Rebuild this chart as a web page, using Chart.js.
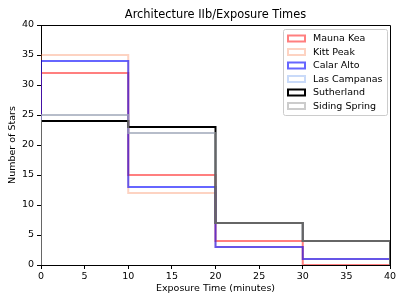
<!DOCTYPE html>
<html>
<head>
<meta charset="utf-8">
<script src="https://cdn.jsdelivr.net/npm/chart.js@4/dist/chart.umd.min.js"></script>
<style>
  html, body { margin: 0; padding: 0; background: #fff; }
  #wrap { width: 407px; height: 305px; }
</style>
</head>
<body>
<div id="wrap"><canvas id="c" width="407" height="305"></canvas></div>
<script>
// ---- Data ----
const binEdges = [0, 10, 20, 30, 40];
const seriesNames = ["Mauna Kea", "Kitt Peak", "Calar Alto", "Las Campanas", "Sutherland", "Siding Spring"];
const maunaKea    = [32, 15, 4, 0];
const kittPeak    = [35, 12, 3, 1];
const calarAlto   = [34, 13, 3, 1];
const lasCampanas = [25, 22, 7, 4];
const sutherland  = [24, 23, 7, 4];
const sidingSpring= [25, 22, 7, 4];
const xTicks = [0, 5, 10, 15, 20, 25, 30, 35, 40];
const yTicks = [0, 5, 10, 15, 20, 25, 30, 35, 40];
const chartTitle = "Architecture IIb/Exposure Times";
const xLabel = "Exposure Time (minutes)";
const yLabel = "Number of Stars";

const seriesValues = [maunaKea, kittPeak, calarAlto, lasCampanas, sutherland, sidingSpring];
const seriesColors = [
  "rgba(255,0,0,0.5)",
  "rgba(250,128,80,0.35)",
  "rgba(0,0,255,0.6)",
  "rgba(100,149,237,0.35)",
  "rgba(0,0,0,1)",
  "rgba(170,170,170,0.6)"
];

function stepPoints(edges, vals) {
  const pts = [{x: edges[0], y: 0}];
  for (let i = 0; i < vals.length; i++) {
    pts.push({x: edges[i], y: vals[i]});
    pts.push({x: edges[i + 1], y: vals[i]});
  }
  pts.push({x: edges[edges.length - 1], y: 0});
  return pts;
}

const FONT = "'DejaVu Sans', sans-serif";
const FS = 9.5;

const datasets = seriesNames.map((name, i) => ({
  label: name,
  data: stepPoints(binEdges, seriesValues[i]),
  borderColor: seriesColors[i],
  backgroundColor: "rgba(0,0,0,0)",
  borderWidth: 2,
  pointRadius: 0,
  fill: false,
  tension: 0,
  borderJoinStyle: "miter",
  order: seriesNames.length - 1 - i
}));

const decorPlugin = {
  id: "decor",
  afterDraw(chart) {
    const ctx = chart.ctx;
    const a = chart.chartArea;
    ctx.save();
    // top and right spines
    ctx.strokeStyle = "#000";
    ctx.lineWidth = 1;
    ctx.beginPath();
    ctx.moveTo(a.left, a.top + 0.5);
    ctx.lineTo(a.right + 0.5, a.top + 0.5);
    ctx.lineTo(a.right + 0.5, a.bottom);
    ctx.stroke();
    // title
    ctx.fillStyle = "#000";
    ctx.font = "11.4px " + FONT;
    ctx.textAlign = "center";
    ctx.textBaseline = "middle";
    ctx.fillText(chartTitle, (a.left + a.right) / 2, 15.5);
    // legend
    const lx = 283, ly = 29, lw = 104, lh = 86;
    ctx.fillStyle = "rgba(255,255,255,0.8)";
    ctx.strokeStyle = "#cccccc";
    ctx.lineWidth = 1;
    ctx.beginPath();
    if (ctx.roundRect) ctx.roundRect(lx + 0.5, ly + 0.5, lw, lh, 2); else ctx.rect(lx + 0.5, ly + 0.5, lw, lh);
    ctx.fill();
    ctx.stroke();
    ctx.font = FS + "px " + FONT;
    ctx.textAlign = "left";
    ctx.textBaseline = "middle";
    chart.data.datasets.forEach((ds, i) => {
      const cy = 38.5 + i * 13.5;
      ctx.strokeStyle = ds.borderColor;
      ctx.lineWidth = 2;
      ctx.strokeRect(288, cy - 3, 17, 6);
      ctx.fillStyle = "#000";
      ctx.fillText(ds.label, 313, cy + 0.5);
    });
    ctx.restore();
  }
};

new Chart(document.getElementById("c"), {
  type: "line",
  data: { datasets },
  options: {
    responsive: false,
    animation: false,
    devicePixelRatio: 1,
    layout: { padding: { left: 0, right: 17, top: 25, bottom: 0 } },
    plugins: { legend: { display: false }, title: { display: false }, tooltip: { enabled: false } },
    scales: {
      x: {
        type: "linear",
        min: 0, max: 40,
        afterBuildTicks: (s) => { s.ticks = xTicks.map(v => ({value: v})); },
        afterFit: (s) => { s.height = 40; },
        grid: { drawOnChartArea: false, drawTicks: true, tickLength: 4, color: "#000", tickWidth: 1 },
        border: { display: true, color: "#000", width: 1 },
        ticks: { color: "#000", font: { family: FONT, size: FS }, padding: 2, maxRotation: 0, autoSkip: false },
        title: { display: true, text: xLabel, color: "#000", font: { family: FONT, size: FS }, padding: { top: 0, bottom: 11 } }
      },
      y: {
        type: "linear",
        min: 0, max: 40,
        afterBuildTicks: (s) => { s.ticks = yTicks.map(v => ({value: v})); },
        afterFit: (s) => { s.width = 41; },
        grid: { drawOnChartArea: false, drawTicks: true, tickLength: 4, color: "#000", tickWidth: 1 },
        border: { display: true, color: "#000", width: 1 },
        ticks: { color: "#000", font: { family: FONT, size: FS }, padding: 3, autoSkip: false },
        title: { display: true, text: yLabel, color: "#000", font: { family: FONT, size: FS }, padding: { top: 7, bottom: 0 } }
      }
    }
  },
  plugins: [decorPlugin]
});
</script>
</body>
</html>
